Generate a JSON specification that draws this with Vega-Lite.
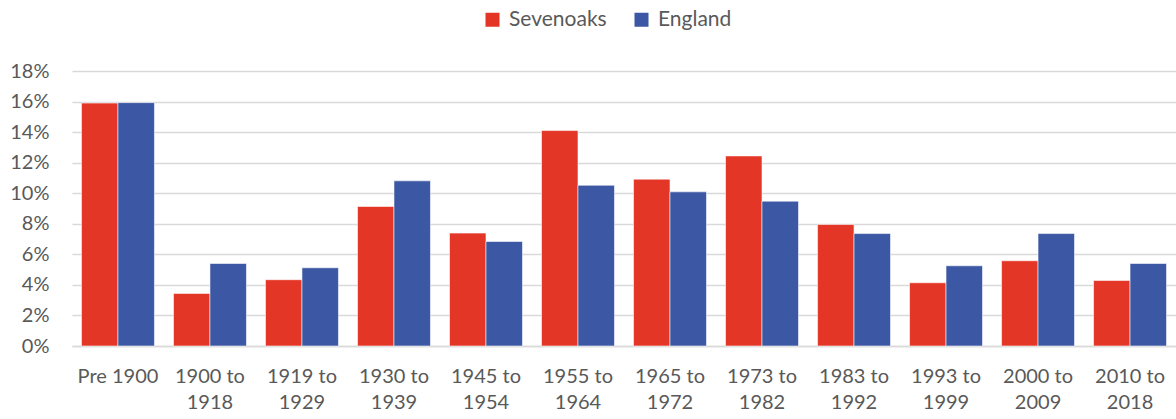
{
  "$schema": "https://vega.github.io/schema/vega-lite/v6.json",
  "width": 1104,
  "height": 275,
  "autosize": {"type": "none"},
  "padding": {"left": 72, "top": 71, "right": 0, "bottom": 73},
  "background": "white",
  "config": {
    "font": "Lato",
    "view": {"stroke": null},
    "axis": {"labelColor": "#595959", "labelFont": "Lato"},
    "legend": {"labelColor": "#595959", "labelFont": "Lato"}
  },
  "data": {
    "values": [
      {"period": "Pre 1900", "area": "Sevenoaks", "share": 0.159},
      {"period": "Pre 1900", "area": "England", "share": 0.1593},
      {"period": "1900 to 1918", "area": "Sevenoaks", "share": 0.0344},
      {"period": "1900 to 1918", "area": "England", "share": 0.054},
      {"period": "1919 to 1929", "area": "Sevenoaks", "share": 0.0434},
      {"period": "1919 to 1929", "area": "England", "share": 0.0512},
      {"period": "1930 to 1939", "area": "Sevenoaks", "share": 0.0913},
      {"period": "1930 to 1939", "area": "England", "share": 0.1081},
      {"period": "1945 to 1954", "area": "Sevenoaks", "share": 0.0739},
      {"period": "1945 to 1954", "area": "England", "share": 0.0684},
      {"period": "1955 to 1964", "area": "Sevenoaks", "share": 0.141},
      {"period": "1955 to 1964", "area": "England", "share": 0.1052},
      {"period": "1965 to 1972", "area": "Sevenoaks", "share": 0.1092},
      {"period": "1965 to 1972", "area": "England", "share": 0.1009},
      {"period": "1973 to 1982", "area": "Sevenoaks", "share": 0.1244},
      {"period": "1973 to 1982", "area": "England", "share": 0.0948},
      {"period": "1983 to 1992", "area": "Sevenoaks", "share": 0.0795},
      {"period": "1983 to 1992", "area": "England", "share": 0.0736},
      {"period": "1993 to 1999", "area": "Sevenoaks", "share": 0.0414},
      {"period": "1993 to 1999", "area": "England", "share": 0.0525},
      {"period": "2000 to 2009", "area": "Sevenoaks", "share": 0.0558},
      {"period": "2000 to 2009", "area": "England", "share": 0.0736},
      {"period": "2010 to 2018", "area": "Sevenoaks", "share": 0.0429},
      {"period": "2010 to 2018", "area": "England", "share": 0.054}
    ]
  },
  "mark": {"type": "bar", "stroke": "#ffffff", "strokeWidth": 0.8, "strokeOpacity": 0.7},
  "encoding": {
    "x": {
      "field": "period",
      "type": "nominal",
      "sort": null,
      "scale": {"paddingInner": 0.207, "paddingOuter": 0.103},
      "axis": {
        "title": null,
        "labelAngle": 0,
        "labelFontSize": 20,
        "labelLineHeight": 26,
        "labelPadding": 20,
        "labelBaseline": "top",
        "domain": true,
        "domainColor": "#D9D9D9",
        "domainWidth": 1.5,
        "ticks": false,
        "tickSize": 0,
        "labelExpr": "datum.value == 'Pre 1900' ? 'Pre 1900' : [slice(datum.value, 0, 7), slice(datum.value, 8)]"
      }
    },
    "xOffset": {
      "field": "area",
      "type": "nominal",
      "sort": ["Sevenoaks", "England"],
      "scale": {"paddingInner": 0, "paddingOuter": 0}
    },
    "y": {
      "field": "share",
      "type": "quantitative",
      "scale": {"domain": [0, 0.18], "nice": false},
      "axis": {
        "title": null,
        "format": ".0%",
        "values": [0, 0.02, 0.04, 0.06, 0.08, 0.1, 0.12, 0.14, 0.16, 0.18],
        "labelFontSize": 20,
        "labelPadding": 23,
        "ticks": false,
        "tickSize": 0,
        "domain": false,
        "grid": true,
        "gridColor": "#D9D9D9",
        "gridWidth": 1.5
      }
    },
    "color": {
      "field": "area",
      "type": "nominal",
      "scale": {"domain": ["Sevenoaks", "England"], "range": ["#E33626", "#3C57A3"]},
      "legend": {
        "title": null,
        "orient": "none",
        "direction": "horizontal",
        "legendX": 410,
        "legendY": -62,
        "symbolType": "square",
        "symbolSize": 196,
        "symbolStrokeWidth": 0,
        "labelFontSize": 21,
        "labelOffset": 6,
        "columnPadding": 24
      }
    }
  }
}
